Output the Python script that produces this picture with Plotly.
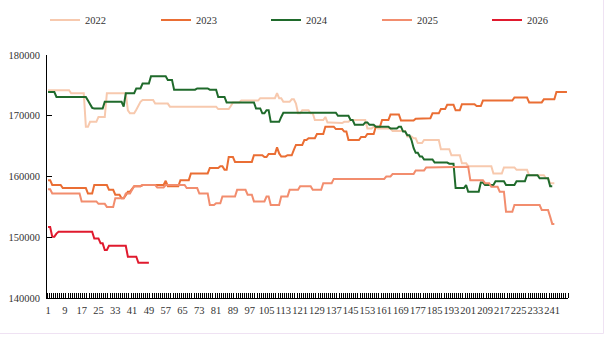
import plotly.graph_objects as go

series_names = ["2022", "2023", "2024", "2025", "2026"]
series_colors = ["#F7C9AE", "#EA6E34", "#1F6A2B", "#F28D6E", "#E01A2E"]

v2022 = [
    174200, 174200, 174200, 174200, 174200, 174200, 174200, 174200, 174200, 174200,
    174200, 173700, 173700, 173700, 173700, 173700, 173700, 173700, 168200, 168200,
    169000, 169000, 169000, 169000, 169800, 169800, 169800, 169800, 173700, 173700,
    173700, 173700, 173700, 173700, 173700, 173700, 173700, 173700, 170900, 170400,
    170400, 170400, 171000, 171800, 172300, 172600, 172600, 172600, 172600, 172600,
    172600, 172000, 172000, 172000, 172000, 172000, 172000, 172000, 171500, 171500,
    171500, 171500, 171500, 171500, 171500, 171500, 171500, 171500, 171500, 171500,
    171500, 171500, 171500, 171500, 171500, 171500, 171500, 171500, 171500, 171500,
    171500, 171100, 171100, 171100, 171100, 171100, 171100, 171600, 172200, 172200,
    172200, 172200, 172500, 172500, 172500, 172500, 172500, 172500, 172500, 172500,
    172500, 172900, 172900, 172900, 172900, 172900, 172900, 172900, 172900, 173700,
    172900, 172900, 172300, 172300, 172300, 172300, 172700, 172700, 172000, 170400,
    170400, 170900, 170900, 170900, 170900, 170400, 170400, 169300, 169300, 169300,
    169300, 169300, 169800, 168900, 168900, 168900, 168800, 168800, 168800, 168800,
    168800, 169000, 169000, 169000, 169300, 169300, 169300, 169300, 169300, 169300,
    169300, 169300, 167900, 167900, 167900, 168200, 168200, 167900, 167900, 167900,
    167900, 167900, 167900, 167900, 167500, 167500, 167500, 167500, 167500, 167500,
    167500, 166600, 166600, 166600, 166300, 166300, 165500, 165500, 165500, 166000,
    166000, 166000, 166000, 166000, 166000, 166000, 166000, 164500, 164500, 164500,
    164500, 164500, 163500, 163500, 163500, 163500, 163500, 162200, 162200, 162200,
    161700, 161700, 161700, 161700, 161700, 161700, 161700, 161700, 161700, 161700,
    161700, 161700, 160500, 160500, 160500, 160500, 160500, 161500, 161500, 161500,
    161500, 161500, 161500, 161100, 161100, 161100, 161100, 161100, 161100, 160200,
    160200, 160200, 160200, 160200, 160200, 160200, 160200, 159700, 159700, 158900,
    158900, 158900,
]

v2023 = [
    159400, 159400, 158600, 158600, 158600, 158600, 158600, 158100, 158100, 158100,
    158100, 158100, 158100, 158100, 158100, 158100, 158100, 158100, 158100, 157200,
    157200, 157200, 158600, 158600, 158600, 158600, 158600, 158600, 158600, 157800,
    157800, 157800, 157000, 157000, 157000, 156400, 156400, 156900, 157500, 157500,
    158000, 158400, 158400, 158400, 158400, 158600, 158600, 158600, 158600, 158600,
    158600, 158600, 158600, 158600, 158600, 158600, 159300, 158400, 158400, 158400,
    158400, 158400, 158400, 159400, 159400, 159400, 159400, 159400, 160500, 160500,
    160500, 160500, 160500, 160500, 160500, 160500, 160500, 161400, 161400, 161400,
    161400, 161400, 161700, 161700, 161100, 161100, 163200, 163200, 163200, 162400,
    162400, 162400, 162400, 162400, 162400, 162400, 162400, 162400, 163500, 163500,
    163500, 163500, 163500, 163200, 163200, 163700, 163700, 163700, 163700, 164800,
    163800, 163300, 163300, 163300, 163500, 163500, 163500, 164400, 165200, 165200,
    165200, 165200, 166000, 166000, 166300, 166300, 166300, 166300, 167000, 167000,
    167000, 167000, 168200, 168200, 168200, 168200, 168200, 167800, 167800, 167800,
    167800, 167400, 167400, 166000, 166000, 166000, 166000, 166000, 166000, 166500,
    166500, 166500, 167000, 167000, 167000, 167000, 168200, 168200, 168200, 169300,
    169300, 169300, 169300, 170200, 170200, 170200, 170200, 170200, 169200, 169200,
    169200, 169200, 169200, 169200, 169200, 169500, 169500, 169500, 169600, 169600,
    169600, 169600, 169600, 170400, 170400, 170400, 170400, 171100, 171100, 171100,
    171800, 171800, 171800, 171800, 170900, 170900, 170900, 171900, 171900, 171900,
    171900, 171900, 171900, 171900, 171600, 171600, 171600, 172500, 172500, 172500,
    172500, 172500, 172500, 172500, 172500, 172500, 172500, 172500, 172500, 172500,
    172500, 172500, 173000, 173000, 173000, 173000, 173000, 173000, 173000, 172200,
    172200, 172200, 172200, 172200, 172200, 172200, 172700, 172700, 172700, 172700,
    172700, 172700, 173900, 173900, 173900, 173900, 173900, 173900,
]

v2024 = [
    173900, 173900, 173900, 173900, 173100, 173100, 173100, 173100, 173100, 173100,
    173100, 173100, 173100, 173100, 173100, 173100, 173100, 173100, 173100, 172500,
    171800, 171300, 171200, 171200, 171200, 171200, 171200, 172300, 172300, 172300,
    172300, 172300, 172300, 172300, 172300, 172300, 171500, 173700, 173700, 173700,
    173700, 173700, 174500, 174500, 174500, 175300, 175300, 175300, 175300, 176500,
    176500, 176500, 176500, 176500, 176500, 176500, 176500, 175900, 175900, 175900,
    174300, 174300, 174300, 174300, 174300, 174300, 174300, 174300, 174300, 174300,
    174300, 174500, 174500, 174500, 174500, 174500, 174500, 174300, 174300, 174300,
    174300, 173100, 173100, 173100, 173100, 172200, 172200, 172200, 172200, 172200,
    172200, 172200, 172200, 172200, 172200, 172200, 172200, 172200, 172200, 171200,
    171200, 171200, 170400, 170400, 170900, 170900, 169000, 169000, 169000, 169000,
    169000, 169800, 170500, 170500, 170500, 170500, 170500, 170500, 170500, 170500,
    170500, 170500, 170500, 170500, 170500, 170500, 170500, 170500, 170500, 170500,
    170500, 170500, 170500, 170500, 170500, 170500, 170500, 170500, 170000, 170000,
    170000, 170000, 170000, 170000, 169300, 169300, 168500, 168500, 168500, 168500,
    168500, 168900, 168900, 168500, 168500, 168500, 168200, 168200, 168200, 168200,
    168200, 168200, 168200, 167900, 167900, 167900, 167900, 168200, 168200, 167400,
    167400, 166800, 166800, 166000, 164700, 163900, 163900, 163300, 163300, 162800,
    162800, 162800, 162800, 162800, 162300, 162300, 162300, 162300, 162300, 162300,
    162300, 162100, 162100, 162100, 158100, 158100, 158100, 158100, 158100, 158600,
    157500, 157500, 157500, 157500, 157500, 157500, 159000, 159000, 158600, 158600,
    158600, 158600, 158600, 159200, 159200, 159200, 159200, 159200, 158600, 158600,
    158600, 158600, 158600, 159200, 159200, 159200, 159200, 159200, 160200, 160200,
    160200, 160200, 160200, 160200, 159700, 159700, 159700, 159700, 159700, 158400,
    158400,
]

v2025 = [
    157900, 157900, 157200, 157200, 157200, 157200, 157200, 157200, 157200, 157200,
    157200, 157200, 157200, 157200, 157200, 157200, 155900, 155900, 155900, 155900,
    155900, 155900, 155900, 155900, 155500, 155500, 155500, 155500, 155000, 155000,
    155000, 155000, 156400, 156400, 156400, 156400, 156400, 157200, 157200, 157200,
    157800, 158400, 158400, 158400, 158400, 158600, 158600, 158600, 158600, 158600,
    158600, 158600, 158200, 158200, 158200, 158200, 158600, 158600, 158600, 158600,
    158600, 158600, 158600, 158600, 158600, 158600, 158100, 158100, 158100, 158100,
    158100, 158100, 157200, 157200, 157200, 157200, 157200, 155300, 155300, 155300,
    155600, 155600, 155600, 156700, 156700, 156700, 156700, 156700, 156700, 156700,
    157800, 157800, 157800, 157800, 157800, 157000, 157000, 157000, 155900, 155900,
    155900, 155900, 155900, 155900, 156700, 156700, 155300, 155300, 155300, 155300,
    155300, 156700, 156700, 156700, 156700, 157800, 157800, 157800, 157800, 157800,
    158400, 158400, 158400, 158400, 158400, 158400, 157800, 157800, 157800, 157800,
    157800, 158900, 158900, 158900, 158900, 158900, 159600, 159600, 159600, 159600,
    159600, 159600, 159600, 159600, 159600, 159600, 159600, 159600, 159600, 159600,
    159600, 159600, 159600, 159600, 159600, 159600, 159600, 159600, 159600, 159600,
    159600, 160000, 160000, 160000, 160400, 160400, 160400, 160400, 160400, 160400,
    160400, 160400, 160400, 160400, 160400, 161000, 161000, 161000, 161000, 161000,
    161500, 161500, 161500, 161500, 161500, 161500, 161500, 161600, 161600, 161600,
    161600, 161600, 161600, 161600, 161600, 161600, 161600, 161600, 161600, 161600,
    161600, 159400, 159400, 159400, 159400, 159400, 159400, 159400, 158900, 158900,
    158900, 158300, 158300, 158300, 158300, 157500, 157500, 157500, 154200, 154200,
    154200, 154200, 155300, 155300, 155300, 155300, 155300, 155300, 155300, 155300,
    155300, 155300, 155300, 155300, 155300, 154500, 154500, 154500, 154500, 153400,
    152200, 152200,
]

v2026 = [
    151700, 151700, 150100, 150100, 150600, 150900, 150900, 150900, 150900, 150900,
    150900, 150900, 150900, 150900, 150900, 150900, 150900, 150900, 150900, 150900,
    150900, 150900, 149800, 149800, 149800, 149000, 149000, 147900, 147900, 148600,
    148600, 148600, 148600, 148600, 148600, 148600, 148600, 148600, 146800, 146800,
    146800, 146800, 146800, 145800, 145800, 145800, 145800, 145800, 145800,
]

x_tick_vals = [1, 9, 17, 25, 33, 41, 49, 57, 65, 73, 81, 89, 97, 105, 113, 121,
               129, 137, 145, 153, 161, 169, 177, 185, 193, 201, 209, 217, 225, 233, 241]
x_tick_text = ["1", "9", "17", "25", "33", "41", "49", "57", "65", "73", "81", "89", "97",
               "105", "113", "121", "129", "137", "145", "153", "161", "169", "177", "185",
               "193", "201", "209", "217", "225", "233", "241"]
y_tick_vals = [140000, 150000, 160000, 170000, 180000]
y_tick_text = ["140000", "150000", "160000", "170000", "180000"]
n_categories = 248

all_values = [v2022, v2023, v2024, v2025, v2026]

FONT = "Liberation Serif"
TXT = "#333333"
W, H = 606, 341
L, R, T, B = 47, 38, 55, 43
pw, ph = W - L - R, H - T - B


def px_x(p):
    return (p - L) / pw


def px_y(p):
    return (H - B - p) / ph


legend_keys = ["legend", "legend2", "legend3", "legend4", "legend5"]
legend_px = [45, 156, 266, 377, 487]

fig = go.Figure()
for name, vals, col, lk in zip(series_names, all_values, series_colors, legend_keys):
    fig.add_trace(go.Scatter(
        x=list(range(1, len(vals) + 1)), y=vals, name=name, mode="lines",
        line=dict(color=col, width=2), legend=lk,
    ))

legend_layout = {}
for lk, lx in zip(legend_keys, legend_px):
    legend_layout[lk] = dict(
        orientation="h", x=px_x(lx), y=px_y(20), xanchor="left", yanchor="middle",
        itemwidth=30, font=dict(family=FONT, size=10.5, color=TXT),
        bgcolor="rgba(0,0,0,0)",
    )

fig.update_layout(
    width=W, height=H,
    margin=dict(l=L, r=R, t=T, b=B, pad=0, autoexpand=False),
    paper_bgcolor="white", plot_bgcolor="white",
    font=dict(family=FONT, size=10.5, color=TXT),
    showlegend=True,
    xaxis=dict(
        range=[0.5, n_categories + 0.5], showgrid=False, zeroline=False,
        showline=True, linecolor="black", linewidth=1, automargin=False,
        tickmode="array", tickvals=x_tick_vals, ticktext=x_tick_text, tickangle=0,
        ticks="", tickfont=dict(family=FONT, size=10.5, color=TXT),
        minor=dict(tickmode="linear", tick0=0.5, dtick=1, ticks="inside",
                   ticklen=5, tickcolor="black", tickwidth=1, showgrid=False),
        ticklabelstandoff=2,
    ),
    yaxis=dict(
        range=[140000, 180000], showgrid=False, zeroline=False,
        showline=True, linecolor="black", linewidth=1, automargin=False,
        tickmode="array", tickvals=y_tick_vals, ticktext=y_tick_text,
        ticks="inside", ticklen=5, tickcolor="black", tickwidth=1,
        tickfont=dict(family=FONT, size=10.5, color=TXT),
        ticklabelstandoff=4,
    ),
    shapes=[
        dict(type="line", xref="paper", yref="paper",
             x0=px_x(603.5), x1=px_x(603.5), y0=px_y(333.5), y1=px_y(0),
             line=dict(color="#EFE2F3", width=1), layer="below"),
        dict(type="line", xref="paper", yref="paper",
             x0=px_x(0), x1=px_x(603.5), y0=px_y(333.5), y1=px_y(333.5),
             line=dict(color="#EFE2F3", width=1), layer="below"),
    ],
    **legend_layout,
)

fig.write_html("out.html")
